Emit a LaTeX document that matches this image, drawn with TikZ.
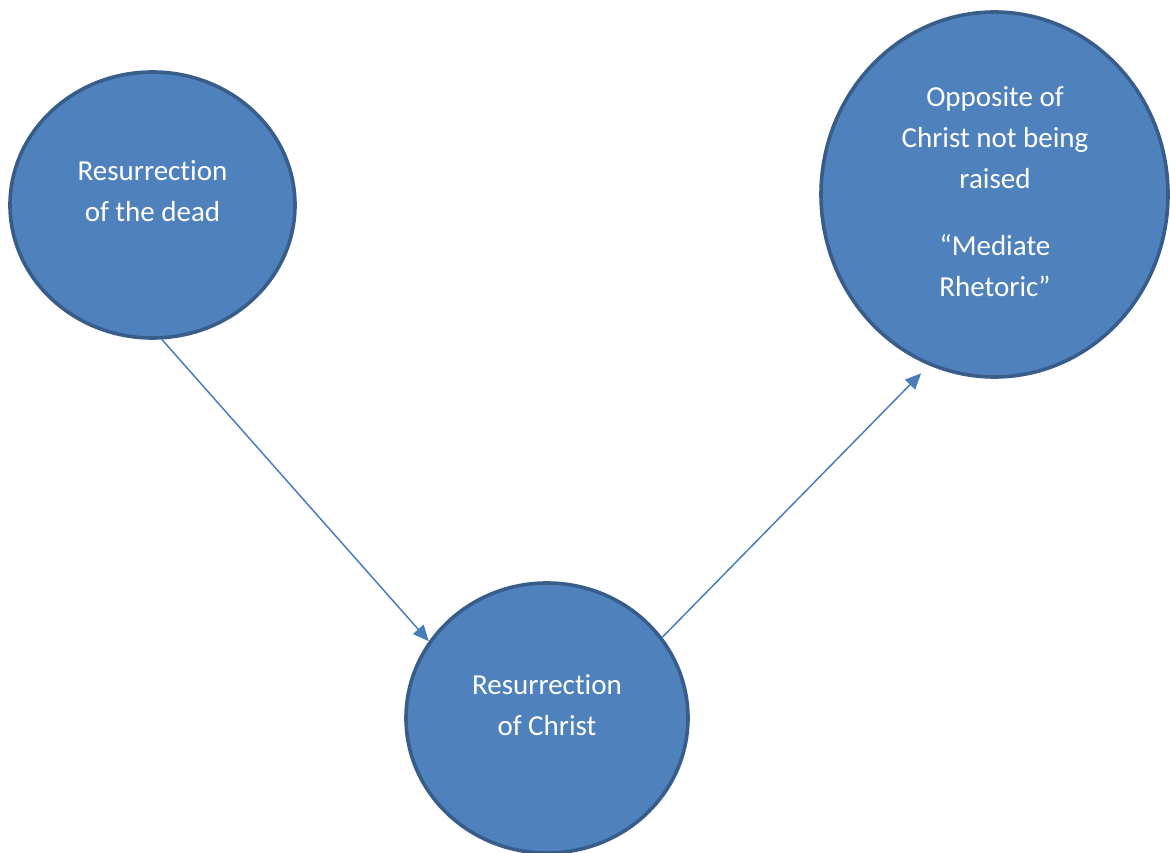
\documentclass[tikz,border=0pt]{standalone}
\usepackage{fontspec}
\setmainfont[Ligatures={NoCommon}]{Carlito}
\usetikzlibrary{shapes.geometric,arrows.meta}
\definecolor{cfill}{HTML}{4F81BD}
\definecolor{cline}{HTML}{385D8A}
\definecolor{carrow}{HTML}{4A7EBB}
\tikzset{
  bubble/.style={ellipse, fill=cfill, draw=cline, line width=3.6pt, inner sep=0pt},
  txt/.style={text=white, align=center, font=\fontsize{29}{41}\selectfont, inner sep=0pt},
  conn/.style={draw=carrow, line width=1.5pt, -{Triangle[length=16pt,width=14pt]}}
}
\begin{document}
\begin{tikzpicture}[x=1pt,y=-1pt]
\useasboundingbox (0,0) rectangle (1170,853);
\node[bubble, minimum width=285pt, minimum height=266pt] (c1) at (152.5,205) {};
\node[bubble, minimum width=282pt, minimum height=270pt] (c2) at (547,718) {};
\node[bubble, minimum width=347pt, minimum height=365pt] (c3) at (994.5,194.5) {};
\node[txt] (t1) at (152.5,191) {Resurrection\\of the dead};
\node[txt] (t2) at (547,705) {Resurrection\\of Christ};
\node[txt] (t3) at (995,192) {Opposite of\\Christ not being\\raised\\[26pt]“Mediate\\Rhetoric”};
\draw[conn] (c1.274.5) -- (c2.147);
\draw[conn, shorten >=11pt] (c2.35) -- (c3.249.5);
\end{tikzpicture}
\end{document}
